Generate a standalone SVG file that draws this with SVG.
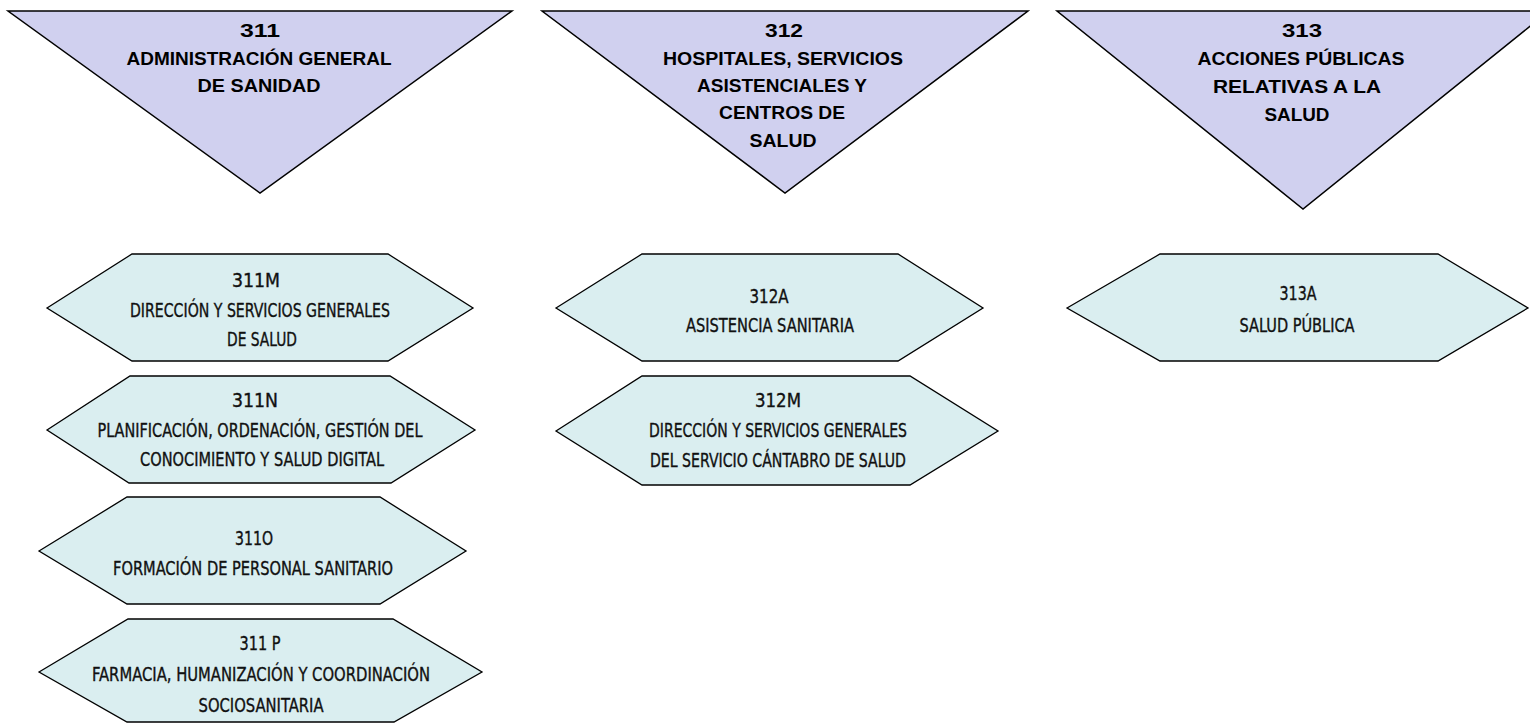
<svg xmlns="http://www.w3.org/2000/svg" width="1530" height="723" viewBox="0 0 1530 723">
<style>
.tri{fill:#D0D0EF;stroke:#000;stroke-width:1.5;stroke-linejoin:miter}
.hex{fill:#DAEEF0;stroke:#000;stroke-width:1.3;stroke-linejoin:miter}
.tt{font-family:"Liberation Sans",Arial,sans-serif;font-weight:bold;font-size:19px;fill:#000;text-anchor:middle}
.ht{font-family:"Liberation Sans Narrow","DejaVu Sans Condensed","Liberation Sans",sans-serif;font-size:19px;fill:#111;stroke:#111;stroke-width:0.35;text-anchor:middle}
</style>
<rect width="1530" height="723" fill="#fff"/>
<g id="connectors"/>
<g id="n311">
<polygon class="tri" points="8,11 512,11 260,193"/>
<text class="tt" x="260" y="37" textLength="40" lengthAdjust="spacingAndGlyphs">311</text>
<text class="tt" x="259" y="65" textLength="265" lengthAdjust="spacingAndGlyphs">ADMINISTRACIÓN GENERAL</text>
<text class="tt" x="259" y="92" textLength="123" lengthAdjust="spacingAndGlyphs">DE SANIDAD</text>
</g>
<g id="n312">
<polygon class="tri" points="542,11 1028,11 785,193"/>
<text class="tt" x="784" y="37" textLength="38" lengthAdjust="spacingAndGlyphs">312</text>
<text class="tt" x="783" y="65" textLength="240" lengthAdjust="spacingAndGlyphs">HOSPITALES, SERVICIOS</text>
<text class="tt" x="782" y="92" textLength="170" lengthAdjust="spacingAndGlyphs">ASISTENCIALES Y</text>
<text class="tt" x="782" y="119" textLength="126" lengthAdjust="spacingAndGlyphs">CENTROS DE</text>
<text class="tt" x="783" y="147" textLength="67" lengthAdjust="spacingAndGlyphs">SALUD</text>
</g>
<g id="n313">
<polygon class="tri" points="1057,11 1549,11 1303,209"/>
<text class="tt" x="1302" y="37" textLength="40" lengthAdjust="spacingAndGlyphs">313</text>
<text class="tt" x="1301" y="65" textLength="207" lengthAdjust="spacingAndGlyphs">ACCIONES PÚBLICAS</text>
<text class="tt" x="1297" y="93" textLength="168" lengthAdjust="spacingAndGlyphs">RELATIVAS A LA</text>
<text class="tt" x="1297" y="121" textLength="65" lengthAdjust="spacingAndGlyphs">SALUD</text>
</g>
<g id="n311M">
<polygon class="hex" points="47,308 132,254 388,254 473,308 388,361 132,361"/>
<text class="ht" x="256" y="287" textLength="48" lengthAdjust="spacingAndGlyphs">311M</text>
<text class="ht" x="260" y="317" textLength="260" lengthAdjust="spacingAndGlyphs">DIRECCIÓN Y SERVICIOS GENERALES</text>
<text class="ht" x="262" y="346" textLength="70" lengthAdjust="spacingAndGlyphs">DE SALUD</text>
</g>
<g id="n311N">
<polygon class="hex" points="47,430 130,376 390,376 475,430 391,483 129,483"/>
<text class="ht" x="255" y="407" textLength="46" lengthAdjust="spacingAndGlyphs">311N</text>
<text class="ht" x="260" y="437" textLength="325" lengthAdjust="spacingAndGlyphs">PLANIFICACIÓN, ORDENACIÓN, GESTIÓN DEL</text>
<text class="ht" x="262" y="466" textLength="244" lengthAdjust="spacingAndGlyphs">CONOCIMIENTO Y SALUD DIGITAL</text>
</g>
<g id="n311O">
<polygon class="hex" points="39,551 127,497 380,497 466,551 380,604 127,604"/>
<text class="ht" x="254" y="545" textLength="38" lengthAdjust="spacingAndGlyphs">311O</text>
<text class="ht" x="253" y="575" textLength="280" lengthAdjust="spacingAndGlyphs">FORMACIÓN DE PERSONAL SANITARIO</text>
</g>
<g id="n311P">
<polygon class="hex" points="39,672 128,619 393,619 482,672 394,722 127,722"/>
<text class="ht" x="260" y="650" textLength="41" lengthAdjust="spacingAndGlyphs">311 P</text>
<text class="ht" x="261" y="681" textLength="338" lengthAdjust="spacingAndGlyphs">FARMACIA, HUMANIZACIÓN Y COORDINACIÓN</text>
<text class="ht" x="261" y="712" textLength="125" lengthAdjust="spacingAndGlyphs">SOCIOSANITARIA</text>
</g>
<g id="n312A">
<polygon class="hex" points="556,308 642,254 898,254 983,308 898,361 642,361"/>
<text class="ht" x="769" y="303" textLength="39" lengthAdjust="spacingAndGlyphs">312A</text>
<text class="ht" x="770" y="332" textLength="168" lengthAdjust="spacingAndGlyphs">ASISTENCIA SANITARIA</text>
</g>
<g id="n312M">
<polygon class="hex" points="556,431 642,376 910,376 998,431 910,485 642,485"/>
<text class="ht" x="778" y="407" textLength="46" lengthAdjust="spacingAndGlyphs">312M</text>
<text class="ht" x="778" y="437" textLength="258" lengthAdjust="spacingAndGlyphs">DIRECCIÓN Y SERVICIOS GENERALES</text>
<text class="ht" x="778" y="467" textLength="256" lengthAdjust="spacingAndGlyphs">DEL SERVICIO CÁNTABRO DE SALUD</text>
</g>
<g id="n313A">
<polygon class="hex" points="1067,308 1160,254 1438,254 1528,308 1438,361 1160,361"/>
<text class="ht" x="1298" y="300" textLength="37" lengthAdjust="spacingAndGlyphs">313A</text>
<text class="ht" x="1297" y="332" textLength="115" lengthAdjust="spacingAndGlyphs">SALUD PÚBLICA</text>
</g>
</svg>
